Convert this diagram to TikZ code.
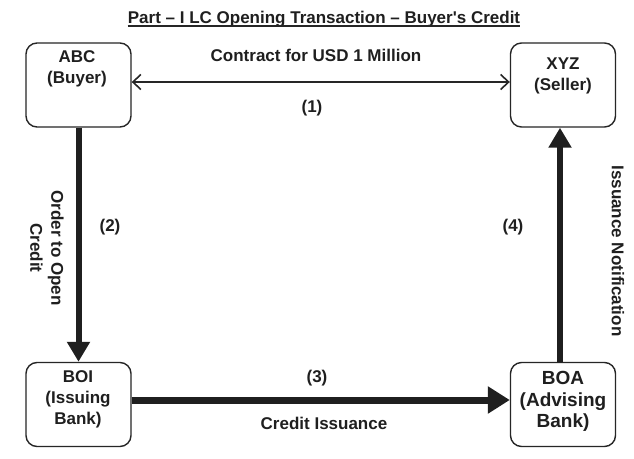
\documentclass[tikz,border=0pt]{standalone}
\usepackage{fontspec}
\setmainfont{Liberation Sans}
\usetikzlibrary{arrows.meta}

\begin{document}
\begin{tikzpicture}[x=1pt, y=-1pt,
  every node/.style={font=\fontsize{17}{21}\selectfont\bfseries, text=black!88, inner sep=0pt},
  party/.style={draw=black!85, line width=1.4pt, rounded corners=11pt,
                minimum width=105pt, minimum height=84pt},
  boxtext/.style={align=center},
  contract/.style={draw=black!85, line width=1.6pt,
                   {Straight Barb[length=8pt,width=15pt,line width=1.6pt]}-{Straight Barb[length=8pt,width=15pt,line width=1.6pt]}},
  flow/.style={draw=black!88, line width=6pt,
               -{Triangle[length=20pt,width=22pt]}},
  sidelabel/.style={align=center, rotate=-90}
]
  % canvas
  \fill[white] (0,0) rectangle (634,458);
  \useasboundingbox (0,0) rectangle (634,458);

  % heading
  \node (title) at (324,19) {Part -- I LC Opening Transaction -- Buyer\textquotesingle s Credit};
  \draw[black!85, line width=1.5pt] ([yshift=-2.5pt]title.base west) -- ([yshift=-2.5pt]title.base east);

  % parties
  \node[party] (abc) at (78.5,85)  {};
  \node[party] (xyz) at (563,85)   {};
  \node[party] (boi) at (78.5,404.5) {};
  \node[party] (boa) at (563,404.5)  {};

  \node[boxtext] (abct) at (77,69)   {ABC\\(Buyer)};
  \node[boxtext] (xyzt) at (563,76)  {XYZ\\(Seller)};
  \node[boxtext] (boit) at (78,399)  {BOI\\(Issuing\\Bank)};
  \node[boxtext, font=\fontsize{19}{21.5}\selectfont\bfseries] (boat) at (563,401.5) {BOA\\(Advising\\Bank)};

  % (1) contract between buyer and seller
  \draw[contract] ([yshift=3pt]abc.east) -- ([yshift=3pt]xyz.west);
  \node (l1) at (316,55)  {Contract for USD 1 Million};
  \node (n1) at (312,108) {(1)};

  % (2) buyer instructs issuing bank
  \draw[flow] (abc.south) -- (boi.north);
  \node[sidelabel] (l2) at (47,248) {Order to Open\\Credit};
  \node (n2) at (110,227) {(2)};

  % (3) issuing bank issues credit to advising bank
  \draw[flow, line width=7pt, -{Triangle[length=22pt,width=26pt]}] ([yshift=4.5pt]boi.east) -- ([yshift=4.5pt]boa.west);
  \node (n3) at (317,378) {(3)};
  \node (l3) at (324,423) {Credit Issuance};

  % (4) advising bank notifies seller
  \draw[flow] ([xshift=-3pt]boa.north) -- ([xshift=-3pt]xyz.south);
  \node (n4) at (513,227) {(4)};
  \node[sidelabel] (l4) at (618,251) {Issuance Notification};
\end{tikzpicture}
\end{document}
